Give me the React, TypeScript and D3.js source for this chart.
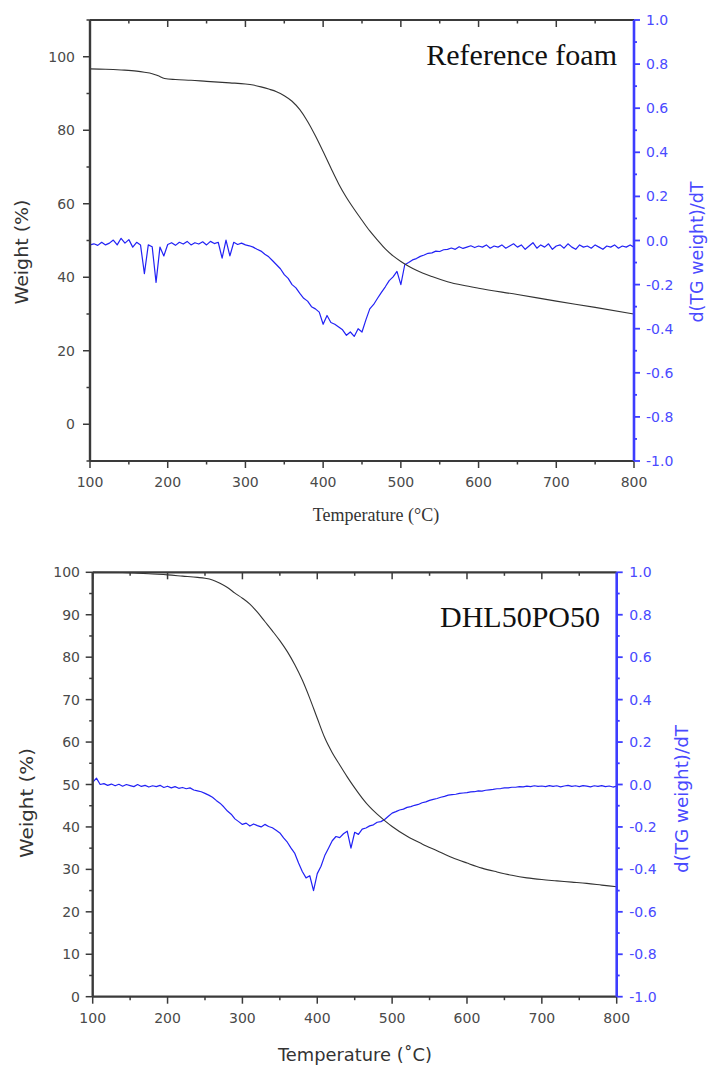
import React from 'react';
import * as d3 from 'd3';

// ---------- shared axis data ----------
const xMajor = [100, 200, 300, 400, 500, 600, 700, 800];
const xMinor = [150, 250, 350, 450, 550, 650, 750];
const y2Major = [1.0, 0.8, 0.6, 0.4, 0.2, 0.0, -0.2, -0.4, -0.6, -0.8, -1.0];
const y2Labels = ['1.0', '0.8', '0.6', '0.4', '0.2', '0.0', '-0.2', '-0.4', '-0.6', '-0.8', '-1.0'];
const y2Minor = [0.9, 0.7, 0.5, 0.3, 0.1, -0.1, -0.3, -0.5, -0.7, -0.9];

// ---------- top panel (Reference foam) ----------
const topTitle = 'Reference foam';
const topYMajor = [0, 20, 40, 60, 80, 100];
const topYMinor = [-10, 10, 30, 50, 70, 90, 110];
const topWeight: [number, number][] = [
  [100, 96.7], [120, 96.6], [140, 96.4], [160, 96.1], [170, 95.8], [180, 95.4], [188, 94.8], [196, 94.1],
  [210, 93.8], [230, 93.6], [250, 93.3], [280, 92.9], [300, 92.6], [310, 92.3], [320, 91.8], [330, 91.2],
  [340, 90.5], [350, 89.4], [360, 87.9], [370, 85.6], [380, 82.4], [390, 78.5], [400, 74.2], [410, 69.7],
  [420, 65.4], [430, 61.7], [440, 58.5], [450, 55.5], [460, 52.6], [470, 50.1], [480, 47.7], [490, 45.8],
  [500, 44.3], [510, 43.0], [520, 41.9], [540, 40.2], [560, 38.8], [580, 37.8], [600, 37.0], [650, 35.3],
  [700, 33.5], [750, 31.8], [800, 30.0],
];
const topDtg: [number, number][] = [
  [100, -0.02], [105, -0.015], [110, -0.022], [115, -0.008], [120, -0.02], [125, -0.012], [130, 0.002], [135, -0.02], [140, 0.01], [145, -0.012],
  [150, 0.004], [155, -0.03], [160, -0.008], [165, -0.02], [170, -0.15], [175, -0.02], [180, -0.028], [185, -0.19], [190, -0.03], [195, -0.07],
  [200, -0.018], [205, -0.01], [210, -0.022], [215, -0.008], [220, -0.016], [225, -0.004], [230, -0.02], [235, -0.01], [240, -0.016], [245, -0.006],
  [250, -0.02], [255, -0.004], [260, -0.014], [265, -0.008], [270, -0.08], [275, 0.002], [280, -0.07], [285, -0.008], [290, -0.018], [295, -0.012],
  [300, -0.02], [305, -0.024], [310, -0.03], [315, -0.04], [320, -0.048], [325, -0.062], [330, -0.074], [335, -0.092], [340, -0.11], [345, -0.128],
  [350, -0.155], [355, -0.172], [360, -0.2], [365, -0.215], [370, -0.24], [375, -0.262], [380, -0.275], [385, -0.3], [390, -0.31], [395, -0.325],
  [400, -0.38], [405, -0.34], [410, -0.372], [415, -0.38], [420, -0.392], [425, -0.405], [430, -0.43], [435, -0.415], [440, -0.435], [445, -0.4],
  [450, -0.415], [455, -0.36], [460, -0.31], [465, -0.29], [470, -0.262], [475, -0.235], [480, -0.21], [485, -0.182], [490, -0.165], [495, -0.14],
  [500, -0.2], [505, -0.11], [510, -0.1], [515, -0.088], [520, -0.082], [525, -0.072], [530, -0.066], [535, -0.058], [540, -0.056], [545, -0.048],
  [550, -0.05], [555, -0.042], [560, -0.04], [565, -0.034], [570, -0.04], [575, -0.028], [580, -0.036], [585, -0.03], [590, -0.024], [595, -0.032],
  [600, -0.025], [605, -0.03], [610, -0.02], [615, -0.035], [620, -0.025], [625, -0.03], [630, -0.02], [635, -0.035], [640, -0.025], [645, -0.015],
  [650, -0.03], [655, -0.02], [660, -0.04], [665, -0.025], [670, -0.01], [675, -0.035], [680, -0.02], [685, -0.03], [690, -0.015], [695, -0.04],
  [700, -0.025], [705, -0.02], [710, -0.035], [715, -0.015], [720, -0.03], [725, -0.04], [730, -0.02], [735, -0.03], [740, -0.025], [745, -0.035],
  [750, -0.02], [755, -0.03], [760, -0.04], [765, -0.025], [770, -0.03], [775, -0.02], [780, -0.035], [785, -0.025], [790, -0.03], [795, -0.02],
  [800, -0.03],
];

// ---------- bottom panel (DHL50PO50) ----------
const botTitle = 'DHL50PO50';
const botYMajor = [0, 10, 20, 30, 40, 50, 60, 70, 80, 90, 100];
const botYMinor = [5, 15, 25, 35, 45, 55, 65, 75, 85, 95];
const botWeight: [number, number][] = [
  [100, 100], [140, 99.95], [160, 99.8], [180, 99.6], [200, 99.4], [220, 99.1], [240, 98.8], [250, 98.6],
  [260, 98.2], [270, 97.4], [280, 96.4], [290, 95.1], [300, 93.9], [310, 92.5], [320, 90.6], [330, 88.4],
  [340, 86.2], [350, 83.9], [360, 81.3], [370, 78.2], [380, 74.6], [390, 70.3], [400, 65.6], [410, 61.0],
  [420, 57.5], [430, 54.6], [440, 51.8], [450, 49.2], [460, 46.8], [470, 44.7], [480, 43.0], [490, 41.5],
  [500, 40.1], [520, 37.8], [540, 36.0], [560, 34.4], [580, 32.8], [600, 31.5], [620, 30.3], [640, 29.4],
  [660, 28.6], [680, 28.0], [700, 27.6], [720, 27.3], [740, 27.0], [760, 26.7], [780, 26.3], [800, 25.9],
];
const botDtg: [number, number][] = [
  [100, 0.01], [105, 0.03], [110, 0.0], [115, 0.004], [120, -0.004], [125, 0.002], [130, -0.006], [135, 0.001], [140, -0.008], [145, 0.0],
  [150, -0.005], [155, -0.01], [160, 0.0], [165, -0.009], [170, -0.004], [175, -0.012], [180, -0.006], [185, -0.01], [190, -0.004], [195, -0.014],
  [200, -0.008], [205, -0.016], [210, -0.01], [215, -0.018], [220, -0.014], [225, -0.02], [230, -0.016], [235, -0.026], [240, -0.03], [245, -0.034],
  [250, -0.042], [255, -0.05], [260, -0.06], [265, -0.075], [270, -0.088], [275, -0.105], [280, -0.125], [285, -0.14], [290, -0.162], [295, -0.175],
  [300, -0.188], [305, -0.182], [310, -0.196], [315, -0.186], [320, -0.194], [325, -0.2], [330, -0.188], [335, -0.198], [340, -0.204], [345, -0.216],
  [350, -0.228], [355, -0.252], [360, -0.272], [365, -0.3], [370, -0.325], [375, -0.37], [380, -0.41], [385, -0.44], [390, -0.43], [395, -0.5],
  [400, -0.42], [405, -0.385], [410, -0.335], [415, -0.3], [420, -0.265], [425, -0.245], [430, -0.25], [435, -0.232], [440, -0.22], [445, -0.3],
  [450, -0.225], [455, -0.235], [460, -0.21], [465, -0.205], [470, -0.195], [475, -0.19], [480, -0.178], [485, -0.175], [490, -0.165], [495, -0.15],
  [500, -0.135], [505, -0.128], [510, -0.12], [515, -0.116], [520, -0.108], [525, -0.104], [530, -0.098], [535, -0.094], [540, -0.086], [545, -0.082],
  [550, -0.075], [555, -0.07], [560, -0.066], [565, -0.06], [570, -0.056], [575, -0.05], [580, -0.048], [585, -0.046], [590, -0.042], [595, -0.04],
  [600, -0.038], [605, -0.035], [610, -0.034], [615, -0.03], [620, -0.031], [625, -0.027], [630, -0.025], [635, -0.023], [640, -0.02], [645, -0.019],
  [650, -0.016], [655, -0.016], [660, -0.013], [665, -0.013], [670, -0.01], [675, -0.011], [680, -0.008], [685, -0.01], [690, -0.006], [695, -0.009],
  [700, -0.007], [705, -0.01], [710, -0.005], [715, -0.009], [720, -0.006], [725, -0.011], [730, -0.007], [735, -0.004], [740, -0.009], [745, -0.006],
  [750, -0.01], [755, -0.005], [760, -0.008], [765, -0.011], [770, -0.006], [775, -0.009], [780, -0.005], [785, -0.01], [790, -0.007], [795, -0.012],
  [800, -0.008],
];

const SANS = '"DejaVu Sans", Arial, sans-serif';
const SERIF = '"Liberation Serif", "Times New Roman", serif';
const GRAY = '#3a3a3a';
const TICKTXT = '#4a4a4a';
const BLUE_AXIS = '#3d3dff';
const BLUE_TXT = '#4a4aff';
const BLUE_LINE = '#2222f5';

type PanelProps = {
  box: { left: number; right: number; top: number; bottom: number };
  yDomain: [number, number];
  yMajor: number[];
  yMinor: number[];
  weight: [number, number][];
  dtg: [number, number][];
  title: string;
  titleEnd: number;
  titleBase: number;
  xLabel: string;
  xLabelFont: string;
  xLabelSize: number;
  xLabelX: number;
  xLabelBase: number;
  xLabelLen?: number;
  leftLabelPos: [number, number];
  leftLabelLen: number;
  rightLabelPos: [number, number];
  rightLabelLen: number;
  leftLabelGap: number;
  rightLabelGap: number;
  bottomLabelY: number;
};

function Panel(p: PanelProps) {
  const { box } = p;
  const x = d3.scaleLinear().domain([100, 800]).range([box.left, box.right]);
  const y = d3.scaleLinear().domain(p.yDomain).range([box.bottom, box.top]);
  const y2 = d3.scaleLinear().domain([-1, 1]).range([box.bottom, box.top]);
  const wLine = d3.line<[number, number]>().x((d) => x(d[0])).y((d) => y(d[1])).curve(d3.curveMonotoneX);
  const dLine = d3.line<[number, number]>().x((d) => x(d[0])).y((d) => y2(d[1]));
  const MAJ = 7, MIN = 3.5;
  return (
    <g>
      {/* curves */}
      <path d={dLine(p.dtg) || ''} fill="none" stroke={BLUE_LINE} strokeWidth={1.2} strokeLinejoin="round" />
      <path d={wLine(p.weight) || ''} fill="none" stroke="#333" strokeWidth={1.1} />

      {/* top border with inward ticks */}
      <line x1={box.left} x2={box.right} y1={box.top} y2={box.top} stroke={GRAY} strokeWidth={2.2} />
      {xMajor.map((t) => (
        <line key={'tm' + t} x1={x(t)} x2={x(t)} y1={box.top} y2={box.top + MAJ} stroke={GRAY} strokeWidth={1.5} />
      ))}
      {xMinor.map((t) => (
        <line key={'tn' + t} x1={x(t)} x2={x(t)} y1={box.top} y2={box.top + MIN} stroke={GRAY} strokeWidth={1.5} />
      ))}

      {/* bottom axis */}
      <line x1={box.left} x2={box.right} y1={box.bottom} y2={box.bottom} stroke={GRAY} strokeWidth={2.2} />
      {xMajor.map((t) => (
        <line key={'bm' + t} x1={x(t)} x2={x(t)} y1={box.bottom} y2={box.bottom + MAJ} stroke={GRAY} strokeWidth={1.5} />
      ))}
      {xMinor.map((t) => (
        <line key={'bn' + t} x1={x(t)} x2={x(t)} y1={box.bottom} y2={box.bottom + MIN} stroke={GRAY} strokeWidth={1.5} />
      ))}
      {xMajor.map((t) => (
        <text key={'bl' + t} x={x(t)} y={p.bottomLabelY} textAnchor="middle" dominantBaseline="central"
          fontFamily={SANS} fontSize={14} fill={TICKTXT}>{t}</text>
      ))}

      {/* left axis */}
      <line x1={box.left} x2={box.left} y1={box.top} y2={box.bottom} stroke={GRAY} strokeWidth={2.4} />
      {p.yMajor.map((v) => (
        <line key={'lm' + v} x1={box.left - MAJ} x2={box.left} y1={y(v)} y2={y(v)} stroke={GRAY} strokeWidth={1.5} />
      ))}
      {p.yMinor.map((v) => (
        <line key={'ln' + v} x1={box.left - MIN} x2={box.left} y1={y(v)} y2={y(v)} stroke={GRAY} strokeWidth={1.5} />
      ))}
      {p.yMajor.map((v) => (
        <text key={'ll' + v} x={box.left - p.leftLabelGap} y={y(v)} textAnchor="end" dominantBaseline="central"
          fontFamily={SANS} fontSize={14} fill={TICKTXT}>{v}</text>
      ))}

      {/* right axis (blue) */}
      <line x1={box.right} x2={box.right} y1={box.top} y2={box.bottom} stroke={BLUE_AXIS} strokeWidth={2.6} />
      {y2Major.map((v) => (
        <line key={'rm' + v} x1={box.right} x2={box.right + 6} y1={y2(v)} y2={y2(v)} stroke={BLUE_AXIS} strokeWidth={1.8} />
      ))}
      {y2Minor.map((v) => (
        <line key={'rn' + v} x1={box.right} x2={box.right + 3} y1={y2(v)} y2={y2(v)} stroke={BLUE_AXIS} strokeWidth={1.8} />
      ))}
      {y2Major.map((v, i) => (
        <text key={'rl' + v} x={box.right + p.rightLabelGap} y={y2(v)} textAnchor="start" dominantBaseline="central"
          fontFamily={SANS} fontSize={14} fill={BLUE_TXT}>{y2Labels[i]}</text>
      ))}

      {/* axis titles */}
      <text transform={`translate(${p.leftLabelPos[0]},${p.leftLabelPos[1]}) rotate(-90)`} textAnchor="middle"
        dominantBaseline="central" fontFamily={SANS} fontSize={17} fill="#333"
        textLength={p.leftLabelLen} lengthAdjust="spacingAndGlyphs">Weight (%)</text>
      <text transform={`translate(${p.rightLabelPos[0]},${p.rightLabelPos[1]}) rotate(-90)`} textAnchor="middle"
        dominantBaseline="central" fontFamily={SANS} fontSize={17} fill={BLUE_TXT}
        textLength={p.rightLabelLen} lengthAdjust="spacingAndGlyphs">d(TG weight)/dT</text>
      <text x={p.xLabelX} y={p.xLabelBase} textAnchor="middle" fontFamily={p.xLabelFont} fontSize={p.xLabelSize}
        fill="#333" textLength={p.xLabelLen} lengthAdjust={p.xLabelLen ? 'spacingAndGlyphs' : undefined}>{p.xLabel}</text>

      {/* panel title */}
      <text x={p.titleEnd} y={p.titleBase} textAnchor="end" fontFamily={SERIF} fontSize={30} fill="#111">{p.title}</text>
    </g>
  );
}

export default function App() {
  return (
    <svg width={708} height={1066} style={{ position: 'absolute', left: 0, top: 0, background: '#fff' }}>
      <rect x={0} y={0} width={708} height={1066} fill="#fff" />
      <Panel
        box={{ left: 90, right: 634, top: 20, bottom: 461 }}
        yDomain={[-10, 110]}
        yMajor={topYMajor}
        yMinor={topYMinor}
        weight={topWeight}
        dtg={topDtg}
        title={topTitle}
        titleEnd={617}
        titleBase={65}
        xLabel="Temperature (°C)"
        xLabelFont={SERIF}
        xLabelSize={18}
        xLabelX={376}
        xLabelBase={521}
        leftLabelPos={[22, 252]}
        leftLabelLen={105}
        rightLabelPos={[697, 252]}
        rightLabelLen={141}
        leftLabelGap={15}
        rightLabelGap={12}
        bottomLabelY={482}
      />
      <Panel
        box={{ left: 92.7, right: 616.7, top: 572.3, bottom: 996.7 }}
        yDomain={[0, 100]}
        yMajor={botYMajor}
        yMinor={botYMinor}
        weight={botWeight}
        dtg={botDtg}
        title={botTitle}
        titleEnd={600}
        titleBase={627}
        xLabel="Temperature (˚C)"
        xLabelFont={SANS}
        xLabelSize={18}
        xLabelX={355}
        xLabelBase={1061}
        xLabelLen={154}
        leftLabelPos={[27, 803]}
        leftLabelLen={110}
        rightLabelPos={[682, 799]}
        rightLabelLen={148}
        leftLabelGap={12.7}
        rightLabelGap={12.6}
        bottomLabelY={1018}
      />
    </svg>
  );
}
